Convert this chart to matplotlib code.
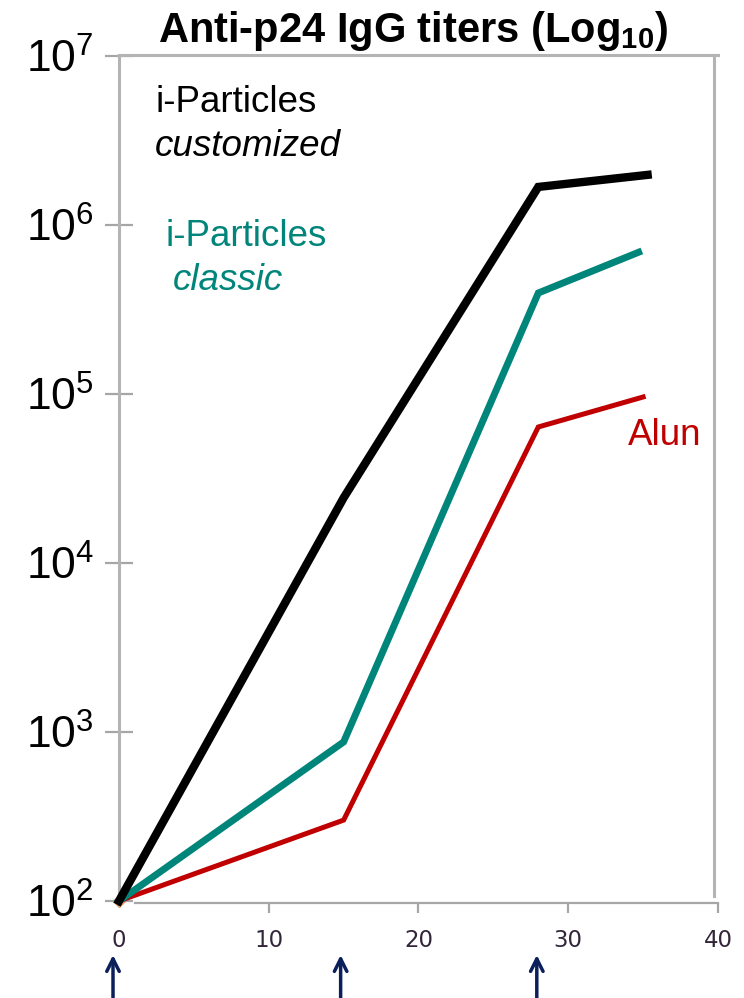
import matplotlib
matplotlib.use("Agg")
import matplotlib.pyplot as plt
from matplotlib.ticker import NullLocator

plt.rcParams['font.family'] = ['Liberation Sans', 'DejaVu Sans']
plt.rcParams['mathtext.fontset'] = 'custom'
plt.rcParams['mathtext.rm'] = 'Liberation Sans'
plt.rcParams['mathtext.it'] = 'Liberation Sans:italic'
plt.rcParams['mathtext.bf'] = 'Liberation Sans:bold'

# ---- data ----
days_custom = [0, 15, 28, 35.3]
titer_custom = [100, 2.43e4, 1.68e6, 1.98e6]

days_classic = [0, 15, 28, 34.7]
titer_classic = [100, 873, 3.96e5, 6.9e5]

days_alun = [0, 15, 28, 35]
titer_alun = [100, 301, 6.38e4, 9.6e4]

immunization_days = [-0.4, 14.8, 27.9]

x_ticks = [0, 10, 20, 30, 40]
y_exponents = [2, 3, 4, 5, 6, 7]

title = r'Anti-p24 IgG titers (Log$_{\mathbf{10}}$)'

# ---- figure ----
W, H = 744, 998
fig = plt.figure(figsize=(W / 100, H / 100), dpi=100)
ax = fig.add_axes([119 / W, 1 - 903 / H, 599 / W, 848 / H])

ax.set_yscale('log')
ax.set_xlim(0, 40)
ax.set_ylim(10 ** 1.988, 10 ** 7.006)

ax.plot(days_custom, titer_custom, color='#000000', lw=6.0,
        solid_joinstyle='miter', clip_on=False, zorder=4)
ax.plot(days_classic, titer_classic, color='#00857a', lw=5.0,
        solid_joinstyle='miter', clip_on=False, zorder=3)
ax.plot(days_alun, titer_alun, color='#c00000', lw=3.6,
        solid_joinstyle='miter', clip_on=False, zorder=2)
ax.plot([days_alun[0]], [titer_alun[0]], marker='D', ms=6,
        color='#e8a060', clip_on=False, zorder=1)

# spines
gray = '#b4b4b4'
for s in ['left', 'top', 'right']:
    ax.spines[s].set_color(gray)
    ax.spines[s].set_linewidth(2.2)
ax.spines['right'].set_position(('data', 39.7))
ax.spines['right'].set_bounds(10 ** 2.03, 10 ** 7.006)
ax.spines['bottom'].set_color('#a6a6a6')
ax.spines['bottom'].set_linewidth(1.6)
ax.spines['bottom'].set_bounds(1.1, 40)

# y ticks
ax.set_yticks([10.0 ** e for e in y_exponents])
ax.set_yticklabels([r'$10^{%d}$' % e for e in y_exponents])
ax.yaxis.set_minor_locator(NullLocator())
ax.tick_params(axis='y', which='major', direction='inout', length=20,
               width=1.6, color='#a6a6a6', labelsize=32, pad=8,
               labelcolor='black')

# x ticks
ax.set_xticks(x_ticks)
ax.set_xticklabels([str(t) for t in x_ticks], family='DejaVu Sans')
ax.tick_params(axis='x', direction='out', length=7, width=1.6,
               color='#a6a6a6', labelsize=16.5, pad=12,
               labelcolor='#33263a')
ax.xaxis.get_major_ticks()[0].tick1line.set_visible(False)

# title and labels
fig.text(413 / W, 1 - 42 / H, title, ha='center', va='baseline',
         fontsize=30, fontweight='bold', color='black')

fs = 26.5
fig.text(155 / W, 1 - 112 / H, 'i-Particles', fontsize=fs,
         color='black', va='baseline')
fig.text(155 / W, 1 - 156 / H, 'customized', fontsize=fs,
         color='black', style='italic', va='baseline')
fig.text(165 / W, 1 - 246 / H, 'i-Particles', fontsize=fs,
         color='#00857a', va='baseline')
fig.text(173 / W, 1 - 290 / H, 'classic', fontsize=fs,
         color='#00857a', style='italic', va='baseline')
fig.text(628 / W, 1 - 445 / H, 'Alun', fontsize=fs,
         color='#c00000', va='baseline')

# immunization arrows
for d in immunization_days:
    ax.annotate('', xy=(d, 1 - 955 / H), xytext=(d, 0.0),
                xycoords=('data', 'figure fraction'),
                textcoords=('data', 'figure fraction'),
                arrowprops=dict(arrowstyle='->,head_length=0.9,head_width=0.45',
                                color='#0b1f5b', lw=2.5,
                                shrinkA=0, shrinkB=0),
                annotation_clip=False)

fig.savefig('out.png', dpi=100)
